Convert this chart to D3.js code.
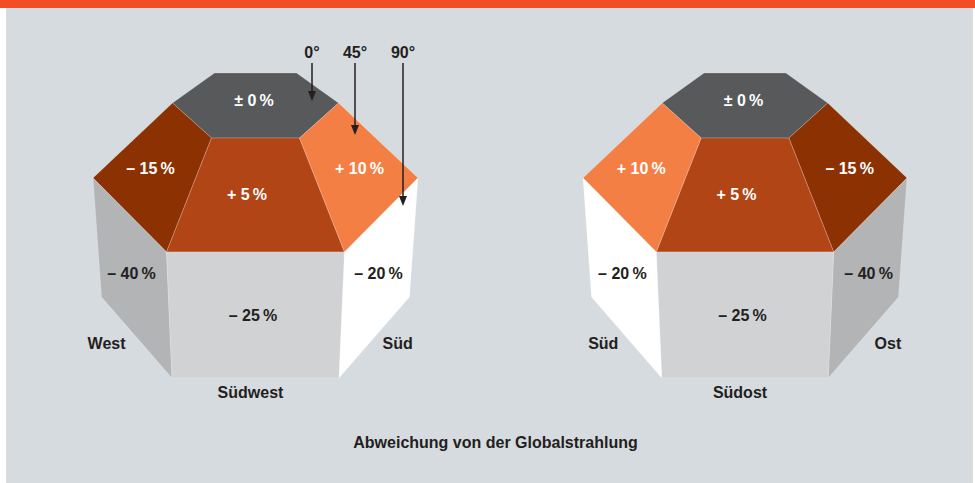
<!DOCTYPE html>
<html>
<head>
<meta charset="utf-8">
<script src="https://cdn.jsdelivr.net/npm/d3@7"></script>
<style>
  body { margin: 0; background: #fff; }
  svg { display: block; font-family: "Liberation Sans", Arial, sans-serif; font-weight: bold; }
</style>
</head>
<body>
<svg id="chart"></svg>
<script>
///////////////////////////////////////////
// Data
var faceKeys   = ["top", "slopeWest", "slopeFront", "slopeSouth", "wallWest", "wallFront", "wallSouth"];
var faceValues = [0, -15, 5, 10, -40, -25, -20];   // Abweichung in %
var leftDirections  = ["West", "Südwest", "Süd"];
var rightDirections = ["Ost", "Südost", "Süd"];
var tiltLabels = ["0°", "45°", "90°"];
var caption = "Abweichung von der Globalstrahlung";

///////////////////////////////////////////
// Layout Setting
var svgWidth = 975,
    svgHeight = 483;

var ink = "#231f20";
var faceColor = d3.scaleOrdinal()
  .domain(faceValues)
  .range(["#58595b", "#8b3102", "#b24516", "#f47f45", "#b2b4b6", "#d0d2d4", "#ffffff"]);

// shape of the roof/prism, u = horizontal offset from the axis, v = y
var prism = {
  T1: [-41, 73],   T2: [41, 73],
  T3: [83, 103],   T6: [-83, 103],
  T4: [44, 138],   T5: [-44, 138],
  L:  [-162.5, 178], R: [162.5, 178],
  B1: [-89, 252],  B2: [89, 252],
  LB: [-154, 297], RB: [154, 297],
  F1: [-83.5, 378], F2: [83.5, 378]
};
var faceOutline = {
  top:        ["T1", "T2", "T3", "T4", "T5", "T6"],
  slopeWest:  ["T6", "T5", "B1", "L"],
  slopeFront: ["T5", "T4", "B2", "B1"],
  slopeSouth: ["T4", "T3", "R", "B2"],
  wallWest:   ["L", "B1", "F1", "LB"],
  wallFront:  ["B1", "B2", "F2", "F1"],
  wallSouth:  ["B2", "R", "RB", "F2"]
};
// label anchor [u, v, mirrored with the shape?]
var faceLabelPos = {
  top:        [-1.5, 100, false],
  slopeWest:  [-105, 168, true],
  slopeFront: [-8.5, 194, false],
  slopeSouth: [104, 168, true],
  wallWest:   [-124, 273, true],
  wallFront:  [-2.5, 315, false],
  wallSouth:  [123, 273, true]
};
var directionPos = [[-130, 343], [-5, 392], [127, 343]];
var arrowPos = [[56.5, 101], [99.5, 135], [147.5, 206]];   // [u, tip v]

var diagrams = [
  {dirs: leftDirections,  range: [93, 418],  arrows: true},
  {dirs: rightDirections, range: [907, 583], arrows: false}
];

function fmt(v) {
  var sign = v > 0 ? "+" : (v < 0 ? "\u2013" : "\u00b1");
  return sign + " " + Math.abs(v) + "\u2009%";
}

///////////////////////////////////////////
// Initialize Layout
var svg = d3.select("#chart").attr("width", svgWidth).attr("height", svgHeight);

svg.append("rect").attr("x", 0).attr("y", 0).attr("width", svgWidth).attr("height", 8)
  .attr("fill", "#f24d24");
svg.append("rect").attr("x", 6).attr("y", 8).attr("width", 967).attr("height", svgHeight - 8)
  .attr("fill", "#d6dbdf");

var faces = faceKeys.map(function(k, i) { return {key: k, value: faceValues[i]}; });
var y = d3.scaleLinear().domain([73, 378]).range([73, 378]);

diagrams.forEach(function(d) {
  var x = d3.scaleLinear().domain([-162.5, 162.5]).range(d.range);
  var cx = x(0);
  var g = svg.append("g");

  g.selectAll("polygon").data(faces).join("polygon")
    .attr("points", function(f) {
      return faceOutline[f.key].map(function(n) { return [x(prism[n][0]), y(prism[n][1])]; }).join(" ");
    })
    .attr("fill", function(f) { return faceColor(f.value); })
    .attr("stroke", "rgba(255,255,255,0.3)")
    .attr("stroke-width", 0.7)
    .attr("stroke-linejoin", "round");

  g.selectAll("text.val").data(faces).join("text").attr("class", "val")
    .attr("x", function(f) {
      var p = faceLabelPos[f.key];
      return p[2] ? x(p[0]) : cx + p[0];
    })
    .attr("y", function(f) { return y(faceLabelPos[f.key][1]) + 5.5; })
    .attr("text-anchor", "middle")
    .attr("font-size", 16)
    .attr("fill", function(f) { return f.value >= -15 ? "#fff" : ink; })
    .text(function(f) { return fmt(f.value); });

  g.selectAll("text.dir").data(d.dirs).join("text").attr("class", "dir")
    .attr("x", function(t, i) { return i === 1 ? cx + directionPos[i][0] : x(directionPos[i][0]); })
    .attr("y", function(t, i) { return y(directionPos[i][1]) + 5.5; })
    .attr("text-anchor", function(t, i) {
      if (i === 1) return "middle";
      return x(directionPos[i][0]) < cx ? "end" : "start";
    })
    .attr("font-size", 16)
    .attr("fill", ink)
    .text(function(t) { return t; });

  if (d.arrows) {
    var a = g.selectAll("g.arrow").data(tiltLabels).join("g").attr("class", "arrow");
    a.append("text")
      .attr("x", function(t, i) { return x(arrowPos[i][0]); })
      .attr("y", 57.5)
      .attr("text-anchor", "middle")
      .attr("font-size", 16)
      .attr("fill", ink)
      .text(function(t) { return t; });
    a.append("line")
      .attr("x1", function(t, i) { return x(arrowPos[i][0]); })
      .attr("x2", function(t, i) { return x(arrowPos[i][0]); })
      .attr("y1", 63)
      .attr("y2", function(t, i) { return y(arrowPos[i][1]) - 6; })
      .attr("stroke", ink)
      .attr("stroke-width", 1.5);
    a.append("path")
      .attr("d", function(t, i) {
        var ax = x(arrowPos[i][0]), ay = y(arrowPos[i][1]);
        return "M" + (ax - 4) + "," + (ay - 10) + "L" + (ax + 4) + "," + (ay - 10) + "L" + ax + "," + ay + "Z";
      })
      .attr("fill", ink);
  }
});

svg.append("text")
  .attr("x", 495.5).attr("y", 448)
  .attr("text-anchor", "middle")
  .attr("font-size", 16)
  .attr("fill", ink)
  .text(caption);
</script>
</body>
</html>
